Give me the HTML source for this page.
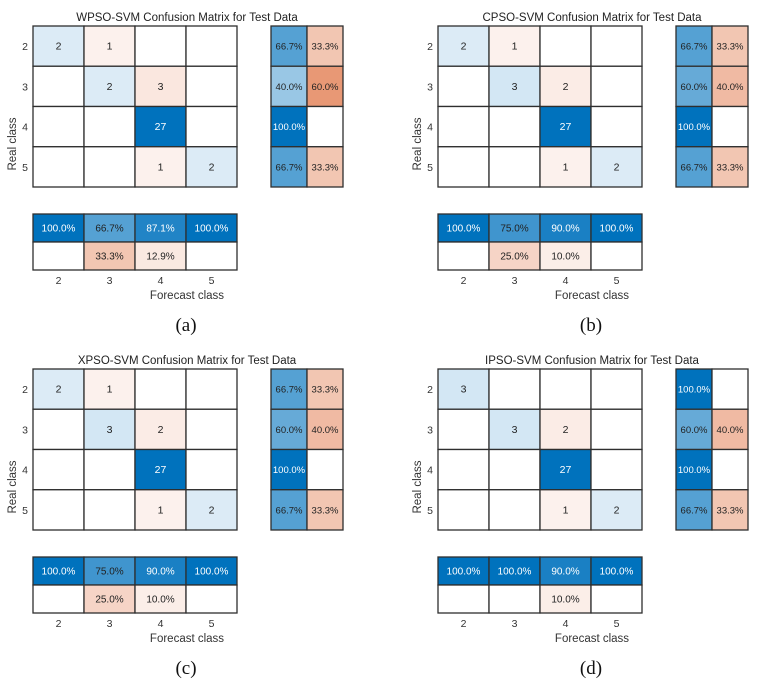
<!DOCTYPE html>
<html><head><meta charset="utf-8">
<style>
html,body{margin:0;padding:0;background:#fff;}
svg{display:block;font-family:"Liberation Sans",Arial,sans-serif;}
</style></head>
<body>
<svg id="fig" width="766" height="686" viewBox="0 0 766 686"></svg>
<script>
const classes = ["2","3","4","5"];
const titles = ["WPSO-SVM Confusion Matrix for Test Data","CPSO-SVM Confusion Matrix for Test Data","XPSO-SVM Confusion Matrix for Test Data","IPSO-SVM Confusion Matrix for Test Data"];
const panelLabels = ["(a)","(b)","(c)","(d)"];
const matrixA = [[2,1,0,0],[0,2,3,0],[0,0,27,0],[0,0,1,2]];
const matrixB = [[2,1,0,0],[0,3,2,0],[0,0,27,0],[0,0,1,2]];
const matrixC = [[2,1,0,0],[0,3,2,0],[0,0,27,0],[0,0,1,2]];
const matrixD = [[3,0,0,0],[0,3,2,0],[0,0,27,0],[0,0,1,2]];
const matrices = [matrixA,matrixB,matrixC,matrixD];

const NS="http://www.w3.org/2000/svg";
const svg=document.getElementById('fig');
const offsets=[[0,0],[405,0],[0,343],[405,343]];
function mix(c,t){const w=[255,255,255];return 'rgb('+c.map((v,i)=>Math.round(w[i]+(v-w[i])*t)).join(',')+')';}
const BLUE=[0,114,189], ORANGE=[217,83,25];
function el(tag,attrs,parent){const e=document.createElementNS(NS,tag);for(const k in attrs)e.setAttribute(k,attrs[k]);parent.appendChild(e);return e;}
function cell(g,x,y,w,h,fill,txt,white,name,fs){
  const r=el('rect',{x:x,y:y,width:w,height:h,fill:fill,stroke:'#2e2e2e','stroke-width':1.3},g);
  
  
  if(txt){const t=el('text',{x:x+w/2,y:y+h/2+3.5,'text-anchor':'middle','font-size':fs||10.5,fill:white?'#fff':'#222'},g);t.textContent=txt;
    
    }
}
matrices.forEach((M,p)=>{
  const [ox,oy]=offsets[p];
  const g=el('g',{transform:`translate(${ox},${oy})`},svg);
  
  
  const n=classes.length, x0=33, cw=51, y0=26, rh=40.25, sx=271, sw=36, by=214, bh=28;
  const maxv=Math.max(...M.flat());
  for(let i=0;i<n;i++)for(let j=0;j<n;j++){
    const v=M[i][j];let fill='#fff',wt=false;
    if(v>0){ if(i===j){const t=0.07+0.93*v/maxv;fill=mix(BLUE,t);wt=t>0.8;} else {fill=mix(ORANGE,0.05+0.03*v);} }
    cell(g,x0+j*cw,y0+i*rh,cw,rh,fill,v>0?String(v):'',wt,`cell-r${classes[i]}-c${classes[j]}`,10.5);
  }
  for(let i=0;i<n;i++){
    const tot=M[i].reduce((a,b)=>a+b,0);const c=M[i][i]/tot, w=1-c;
    cell(g,sx,y0+i*rh,sw,rh,c>0?mix(BLUE,c):'#fff',c>0?(c*100).toFixed(1)+'%':'',c>0.8,`row-correct-${classes[i]}`,9.5);
    cell(g,sx+sw,y0+i*rh,sw,rh,w>1e-9?mix(ORANGE,w):'#fff',w>1e-9?(w*100).toFixed(1)+'%':'',false,`row-incorrect-${classes[i]}`,9.5);
  }
  for(let j=0;j<n;j++){
    let tot=0;for(let i=0;i<n;i++)tot+=M[i][j];const c=M[j][j]/tot,w=1-c;
    cell(g,x0+j*cw,by,cw,bh,c>0?mix(BLUE,c):'#fff',c>0?(c*100).toFixed(1)+'%':'',c>0.8,`col-correct-${classes[j]}`,10);
    cell(g,x0+j*cw,by+bh,cw,bh,w>1e-9?mix(ORANGE,w):'#fff',w>1e-9?(w*100).toFixed(1)+'%':'',false,`col-incorrect-${classes[j]}`,10);
  }
  classes.forEach((c,i)=>{
    const t=el('text',{x:25,y:y0+i*rh+rh/2+4,'text-anchor':'middle','font-size':10.5,fill:'#333'},g);t.textContent=c;
    
    
    const u=el('text',{x:x0+i*cw+cw/2,y:284,'text-anchor':'middle','font-size':10.5,fill:'#333'},g);u.textContent=c;
    
    
  });
  const ti=el('text',{x:187,y:21,'text-anchor':'middle','font-size':11.5,fill:'#222'},g);ti.textContent=titles[p];
  
  
  const xl=el('text',{x:187,y:299,'text-anchor':'middle','font-size':11.5,fill:'#333'},g);xl.textContent='Forecast class';
  
  
  const yl=el('text',{x:0,y:0,'text-anchor':'middle','font-size':11.5,fill:'#333',transform:'translate(16,144) rotate(-90)'},g);yl.textContent='Real class';
  
  
  const pl=el('text',{x:186,y:331,'text-anchor':'middle','font-size':19,fill:'#111','font-family':'Liberation Serif, serif'},g);pl.textContent=panelLabels[p];
  
  
});
</script>
</body></html>
